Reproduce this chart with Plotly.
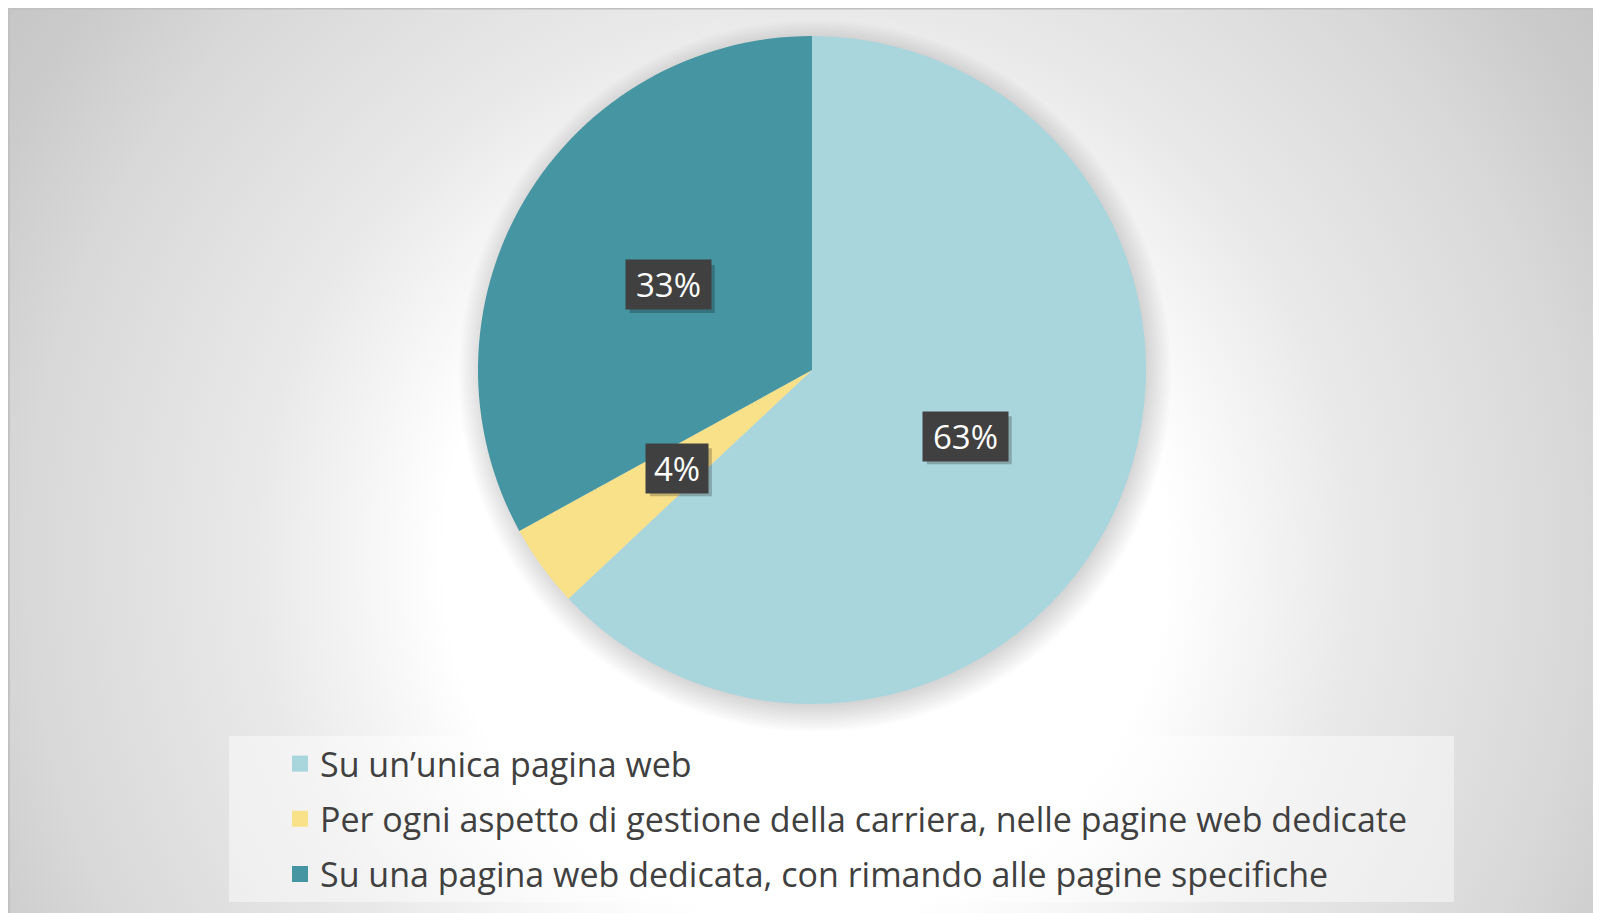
import numpy as np
import plotly.graph_objects as go

# ---------------- data ----------------
categories = [
    "Su un’unica pagina web",
    "Per ogni aspetto di gestione della carriera, nelle pagine web dedicate",
    "Su una pagina web dedicata, con rimando alle pagine specifiche",
]
percentages = [63, 4, 33]
colors = ["#A9D5DC", "#F9E18A", "#4595A2"]

# ---------------- layout constants (pixels, figure coords, y from top) ----------------
W, H = 1593, 905
CX, CY, R = 804, 362, 334          # pie centre / radius
FONT = "Open Sans"
TXT = "#404040"
LBL_SIZE = 33

fig = go.Figure()

# background radial gradient (decoration)
gcx, gcy, half = 797, 552, 1000
fig.add_trace(go.Scatter(
    x=[gcx - half, gcx + half, gcx + half, gcx - half, gcx - half],
    y=[H - (gcy - half), H - (gcy - half), H - (gcy + half), H - (gcy + half), H - (gcy - half)],
    fill="toself", mode="none",
    fillgradient=dict(type="radial", colorscale=[
        [0.0, "#ffffff"], [0.36, "#ffffff"], [0.55, "#e9e9e9"],
        [0.78, "#d8d8d8"], [0.9, "#cbcbcb"], [1.0, "#c4c4c4"]]),
    hoverinfo="skip", showlegend=False))

# soft pie shadow (decoration)
t = np.linspace(0, 2 * np.pi, 181)
for i in range(14):
    rr = R + 2 * i - 4
    fig.add_trace(go.Scatter(
        x=CX + 3 + rr * np.cos(t), y=H - (CY + 6) + rr * np.sin(t),
        fill="toself", mode="none", fillcolor="rgba(0,0,0,0.010)",
        hoverinfo="skip", showlegend=False))

# pie
fig.add_trace(go.Pie(
    labels=categories, values=percentages, sort=False, direction="clockwise", rotation=0,
    marker=dict(colors=colors, line=dict(width=0)),
    textinfo="none", hoverinfo="label+percent", showlegend=False,
    domain=dict(x=[(CX - R) / W, (CX + R) / W], y=[(H - CY - R) / H, (H - CY + R) / H]),
))

# legend entries
for name, col in zip(categories, colors):
    fig.add_trace(go.Scatter(
        x=[None], y=[None], mode="markers", name=name, legendgroup=name,
        marker=dict(symbol="square", size=16, color=col), showlegend=True))

# data labels
vals = np.array(percentages, dtype=float)
pct = vals / vals.sum()
cum = np.cumsum(pct) - pct / 2
annotations = []
shapes = []
for p, c in zip(pct, cum):
    ang = 2 * np.pi * c
    ax_ = CX + 0.5 * R * np.sin(ang)
    ay_ = H - (CY - 0.5 * R * np.cos(ang))
    txt = f"{round(p * 100)}%"
    bw = 23 * len(txt) + 12
    hw, hh = bw / 2 + 2, 24
    # label box shadow
    shapes.append(dict(type="rect", xref="x", yref="y", xsizemode="pixel", ysizemode="pixel",
                       xanchor=ax_, yanchor=ay_, x0=-hw + 4, x1=hw + 4, y0=-hh - 4, y1=hh - 4,
                       fillcolor="rgba(0,0,0,0.22)", line=dict(width=0), layer="above"))
    annotations.append(dict(x=ax_, y=ay_, xref="x", yref="y", text=txt, showarrow=False,
                            width=bw, font=dict(family=FONT, size=LBL_SIZE, color="white"),
                            bgcolor="#404040", borderpad=2))

shapes += [
    # legend background
    dict(type="rect", xref="paper", yref="paper",
         x0=221 / W, x1=1446 / W, y0=(H - 894) / H, y1=(H - 728) / H,
         fillcolor="rgba(255,255,255,0.45)", line=dict(width=0), layer="above"),
    # chart frame
    dict(type="rect", xref="paper", yref="paper",
         x0=0.0005, x1=1.01, y0=-0.01, y1=0.9995,
         fillcolor="rgba(0,0,0,0)", line=dict(color="#c0c0c0", width=2), layer="above"),
]

fig.update_layout(
    width=W, height=H, margin=dict(l=0, r=0, t=0, b=0),
    paper_bgcolor="white", plot_bgcolor="rgba(0,0,0,0)",
    xaxis=dict(range=[0, W], domain=[0, 1], visible=False, fixedrange=True),
    yaxis=dict(range=[0, H], domain=[0, 1], visible=False, fixedrange=True),
    showlegend=True,
    legend=dict(x=272 / W, y=(H - 727) / H, xanchor="left", yanchor="top",
                bgcolor="rgba(0,0,0,0)", tracegroupgap=8,
                font=dict(family=FONT, size=34, color=TXT)),
    annotations=annotations, shapes=shapes,
    font=dict(family=FONT, color=TXT),
)

fig.write_html("out.html")
